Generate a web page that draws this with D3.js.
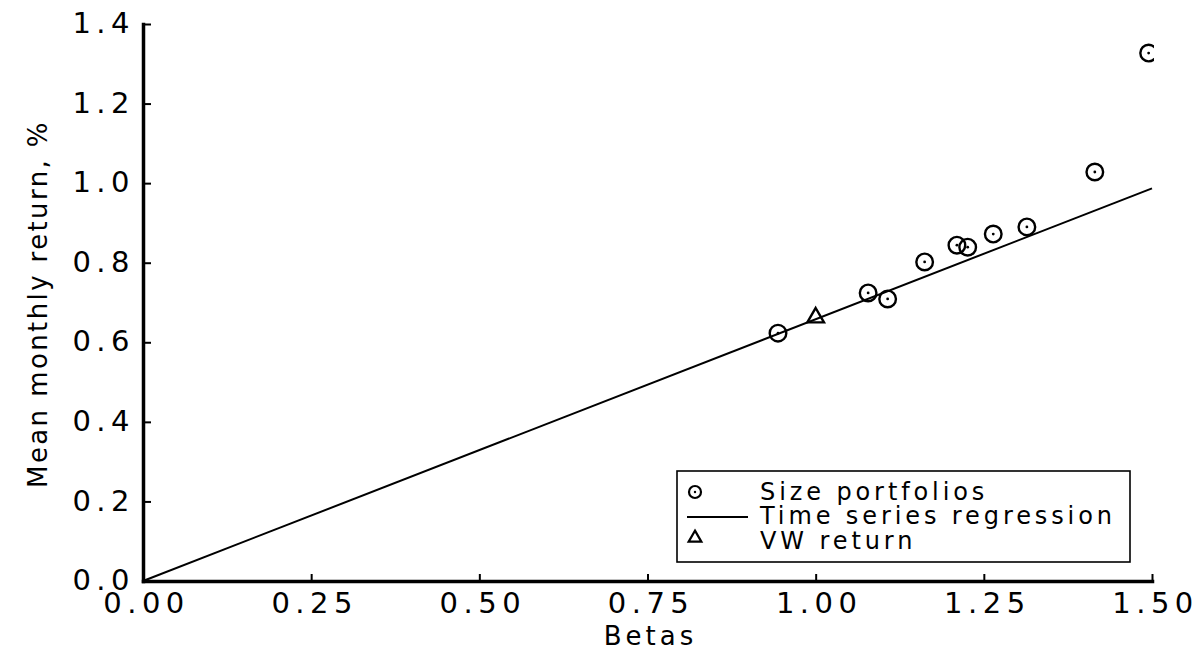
<!DOCTYPE html>
<html>
<head>
<meta charset="utf-8">
<script src="https://cdn.jsdelivr.net/npm/d3@7"></script>
<style>
  html, body { margin: 0; padding: 0; background: #fff; }
  svg { display: block; }
  text { font-family: "DejaVu Sans", sans-serif; fill: #000; }
</style>
</head>
<body>
<svg id="chart" width="1200" height="654"></svg>
<script>
// ---- data ----
const portfolioBetas   = [0.944, 1.078, 1.107, 1.162, 1.210, 1.226, 1.264, 1.314, 1.415, 1.495];
const portfolioReturns = [0.623, 0.724, 0.709, 0.802, 0.844, 0.839, 0.872, 0.890, 1.028, 1.327];
const vwBetas   = [1.00];
const vwReturns = [0.662];
const regressionBetas   = [0, 1.5];
const regressionReturns = [0, 0.987];
const xTicks = [0, 0.25, 0.5, 0.75, 1.0, 1.25, 1.5];
const yTicks = [0, 0.2, 0.4, 0.6, 0.8, 1.0, 1.2, 1.4];
const legendLabels = ["Size portfolios", "Time series regression", "VW return"];
const xTitle = "Betas";
const yTitle = "Mean monthly return, %";

// ---- layout ----
const svg = d3.select("#chart");
const x = d3.scaleLinear().domain([0, 1.5]).range([143, 1152]);
const y = d3.scaleLinear().domain([0, 1.4]).range([581, 24]);

// clip (plot area)
svg.append("defs").append("clipPath").attr("id", "plotclip")
  .append("rect").attr("x", 130).attr("y", 0).attr("width", 1154 - 130).attr("height", 600);

// regression line
const line = d3.line().x(d => x(d[0])).y(d => y(d[1]));
svg.append("path")
  .datum(regressionBetas.map((b, i) => [b, regressionReturns[i]]))
  .attr("d", line)
  .attr("fill", "none").attr("stroke", "#000").attr("stroke-width", 2);

// axes
const yAxis = d3.axisLeft(y).tickValues(yTicks).tickFormat(d3.format(".1f"))
  .tickSizeInner(-8).tickSizeOuter(0).tickPadding(8);
const xAxis = d3.axisBottom(x).tickValues(xTicks).tickFormat(d3.format(".2f"))
  .tickSizeInner(-7).tickSizeOuter(0).tickPadding(11);

const gy = svg.append("g").attr("transform", `translate(${x(0)},0)`).call(yAxis);
const gx = svg.append("g").attr("transform", `translate(0,${y(0)})`).call(xAxis);

[gx, gy].forEach(g => {
  g.select(".domain").attr("stroke", "#000").attr("stroke-width", 3.5).attr("stroke-linecap", "square");
  g.selectAll(".tick line").attr("stroke", "#000").attr("stroke-width", 2);
  g.selectAll(".tick text")
    .attr("font-family", "DejaVu Sans, sans-serif")
    .attr("font-size", 29)
    .attr("letter-spacing", 5.5)
    .attr("fill", "#000");
});
gx.selectAll(".tick text").attr("dx", 3);
gy.selectAll(".tick text").attr("dy", "0.30em");

// axis titles
svg.append("text")
  .attr("x", (x(0) + x(1.5)) / 2 + 3).attr("y", 645)
  .attr("text-anchor", "middle")
  .attr("font-size", 26).attr("letter-spacing", 4)
  .text(xTitle);

svg.append("text")
  .attr("transform", `translate(47,304) rotate(-90)`)
  .attr("text-anchor", "middle")
  .attr("font-size", 26).attr("letter-spacing", 2.4)
  .text(yTitle);

// markers
const markers = svg.append("g").attr("clip-path", "url(#plotclip)");
const pts = portfolioBetas.map((b, i) => ({ b, r: portfolioReturns[i] }));
const pg = markers.selectAll("g.pt").data(pts).join("g").attr("class", "pt")
  .attr("transform", d => `translate(${x(d.b)},${y(d.r)})`);
pg.append("circle").attr("r", 8.3).attr("fill", "none").attr("stroke", "#000").attr("stroke-width", 2.4);
pg.append("circle").attr("r", 1.4).attr("fill", "#000");

const tri = d3.symbol().type(d3.symbolTriangle).size(120);
markers.selectAll("path.vw").data(vwBetas.map((b, i) => ({ b, r: vwReturns[i] })))
  .join("path").attr("class", "vw")
  .attr("d", tri)
  .attr("transform", d => `translate(${x(d.b)},${y(d.r)})`)
  .attr("fill", "none").attr("stroke", "#000").attr("stroke-width", 2.4);

// legend
const lg = svg.append("g");
lg.append("rect").attr("x", 677).attr("y", 471).attr("width", 1130 - 677).attr("height", 562 - 471)
  .attr("fill", "#fff").attr("stroke", "#000").attr("stroke-width", 1.6);
const rowY = [500, 524, 549];
lg.selectAll("text.lab").data(legendLabels).join("text").attr("class", "lab")
  .attr("x", 760).attr("y", (d, i) => rowY[i])
  .attr("font-size", 24).attr("letter-spacing", 3.9)
  .text(d => d);
// symbols
lg.append("circle").attr("cx", 695).attr("cy", rowY[0] - 8).attr("r", 6)
  .attr("fill", "none").attr("stroke", "#000").attr("stroke-width", 2.2);
lg.append("circle").attr("cx", 695).attr("cy", rowY[0] - 8).attr("r", 1.2).attr("fill", "#000");
lg.append("line").attr("x1", 687).attr("x2", 748).attr("y1", rowY[1] - 7).attr("y2", rowY[1] - 7)
  .attr("stroke", "#000").attr("stroke-width", 1.8);
lg.append("path").attr("d", d3.symbol().type(d3.symbolTriangle).size(70))
  .attr("transform", `translate(695,${rowY[2] - 11})`)
  .attr("fill", "none").attr("stroke", "#000").attr("stroke-width", 2.2);
</script>
</body>
</html>
